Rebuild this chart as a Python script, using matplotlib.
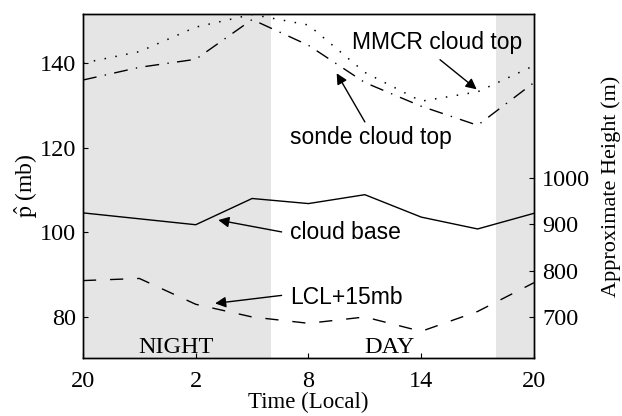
import matplotlib
matplotlib.use("Agg")
import matplotlib.pyplot as plt

# diurnal composite, 3-hourly, local time 20 -> 20 next day (hours past midnight of day 1)
hours = [20, 23, 26, 29, 32, 35, 38, 41, 44]
cloud_base = [104.6, 103.2, 101.8, 108.0, 106.8, 108.9, 103.6, 100.8, 104.5]
lcl_15 = [88.6, 89.1, 83.0, 80.0, 78.5, 80.0, 76.6, 81.3, 88.1]
sonde_top = [136.0, 139.0, 140.9, 150.3, 144.2, 135.4, 129.8, 125.3, 135.4]
mmcr_top = [140.0, 142.7, 148.5, 151.5, 149.0, 137.8, 131.0, 133.2, 139.4]

xticks = [20, 26, 32, 38, 44]
xticklabels = ["20", "2", "8", "14", "20"]
pticks = [80, 100, 120, 140]
height_ticks = [700, 800, 900, 1000]

# night periods (shaded)
night_spans = [(20, 30), (42, 44)]

# rough pressure-depth -> height conversion for the right axis
H_SLOPE, H_OFFSET = 9.12, -29.6

serif = "Liberation Serif"
sans = "Liberation Sans"
plt.rcParams["mathtext.fontset"] = "stix"

fig = plt.figure(figsize=(6.22, 4.16), dpi=100)
ax = fig.add_axes([0.1334, 0.1394, 0.7251, 0.8269])

for x0, x1 in night_spans:
    ax.axvspan(x0, x1, color="#e5e5e5", lw=0, zorder=0)

ax.plot(hours, cloud_base, color="k", lw=1.0)
ax.plot(hours, lcl_15, color="k", lw=1.0, dashes=(9.5, 10))
ax.plot(hours, sonde_top, color="k", lw=1.0, dashes=(10, 6, 1, 6))
ax.plot(hours, mmcr_top, color="k", lw=1.1, dashes=(1, 6.2))

ax.set_xlim(20, 44)
ax.set_ylim(70.3, 151.6)
ax.set_xticks(xticks)
ax.set_xticklabels(xticklabels)
ax.set_yticks(pticks)
ax.tick_params(direction="in", length=3.5, labelsize=17.5, pad=5)
ax.tick_params(axis="x", pad=9)
for lab in ax.get_xticklabels() + ax.get_yticklabels():
    lab.set_fontfamily(serif)

ax.set_xlabel("Time (Local)", fontsize=16.5, fontfamily=serif, labelpad=0)
ax.set_ylabel(r"$\hat{\mathrm{p}}$ (mb)", fontsize=17, fontfamily=serif, labelpad=0)

# height axis on the right
ax2 = ax.twinx()
lo, hi = ax.get_ylim()
ax2.set_ylim(H_SLOPE * lo + H_OFFSET, H_SLOPE * hi + H_OFFSET)
ax2.set_yticks(height_ticks)
ax2.tick_params(direction="in", length=3.5, labelsize=17.5, pad=6)
for lab in ax2.get_yticklabels():
    lab.set_fontfamily(serif)
ax2.set_ylabel("Approximate Height (m)", fontsize=16, fontfamily=serif, labelpad=8)

for a in (ax, ax2):
    for s in a.spines.values():
        s.set_linewidth(1.0)

arrow = dict(arrowstyle="-|>", color="k", lw=1.0, mutation_scale=16,
             shrinkA=0, shrinkB=0)
ax.text(34.3, 144.8, "MMCR cloud top", fontsize=16.5, fontfamily=sans,
        va="center", ha="left")
ax.annotate("", xy=(40.95, 133.8), xytext=(39.0, 140.8), arrowprops=arrow)
ax.text(31.0, 122.5, "sonde cloud top", fontsize=16.5, fontfamily=sans,
        va="center", ha="left")
ax.annotate("", xy=(33.5, 137.6), xytext=(35.0, 126.1), arrowprops=arrow)
ax.text(31.0, 100.0, "cloud base", fontsize=16.5, fontfamily=sans,
        va="center", ha="left")
ax.annotate("", xy=(27.2, 102.9), xytext=(30.57, 100.1), arrowprops=arrow)
ax.text(31.0, 84.7, "LCL+15mb", fontsize=16.5, fontfamily=sans,
        va="center", ha="left")
ax.annotate("", xy=(27.03, 83.2), xytext=(30.57, 85.1), arrowprops=arrow)

ax.text(24.95, 72.9, "NIGHT", fontsize=17.5, fontfamily=serif, ha="center", va="center")
ax.text(36.3, 72.9, "DAY", fontsize=17.5, fontfamily=serif, ha="center", va="center")

fig.savefig("out.png", dpi=100)
